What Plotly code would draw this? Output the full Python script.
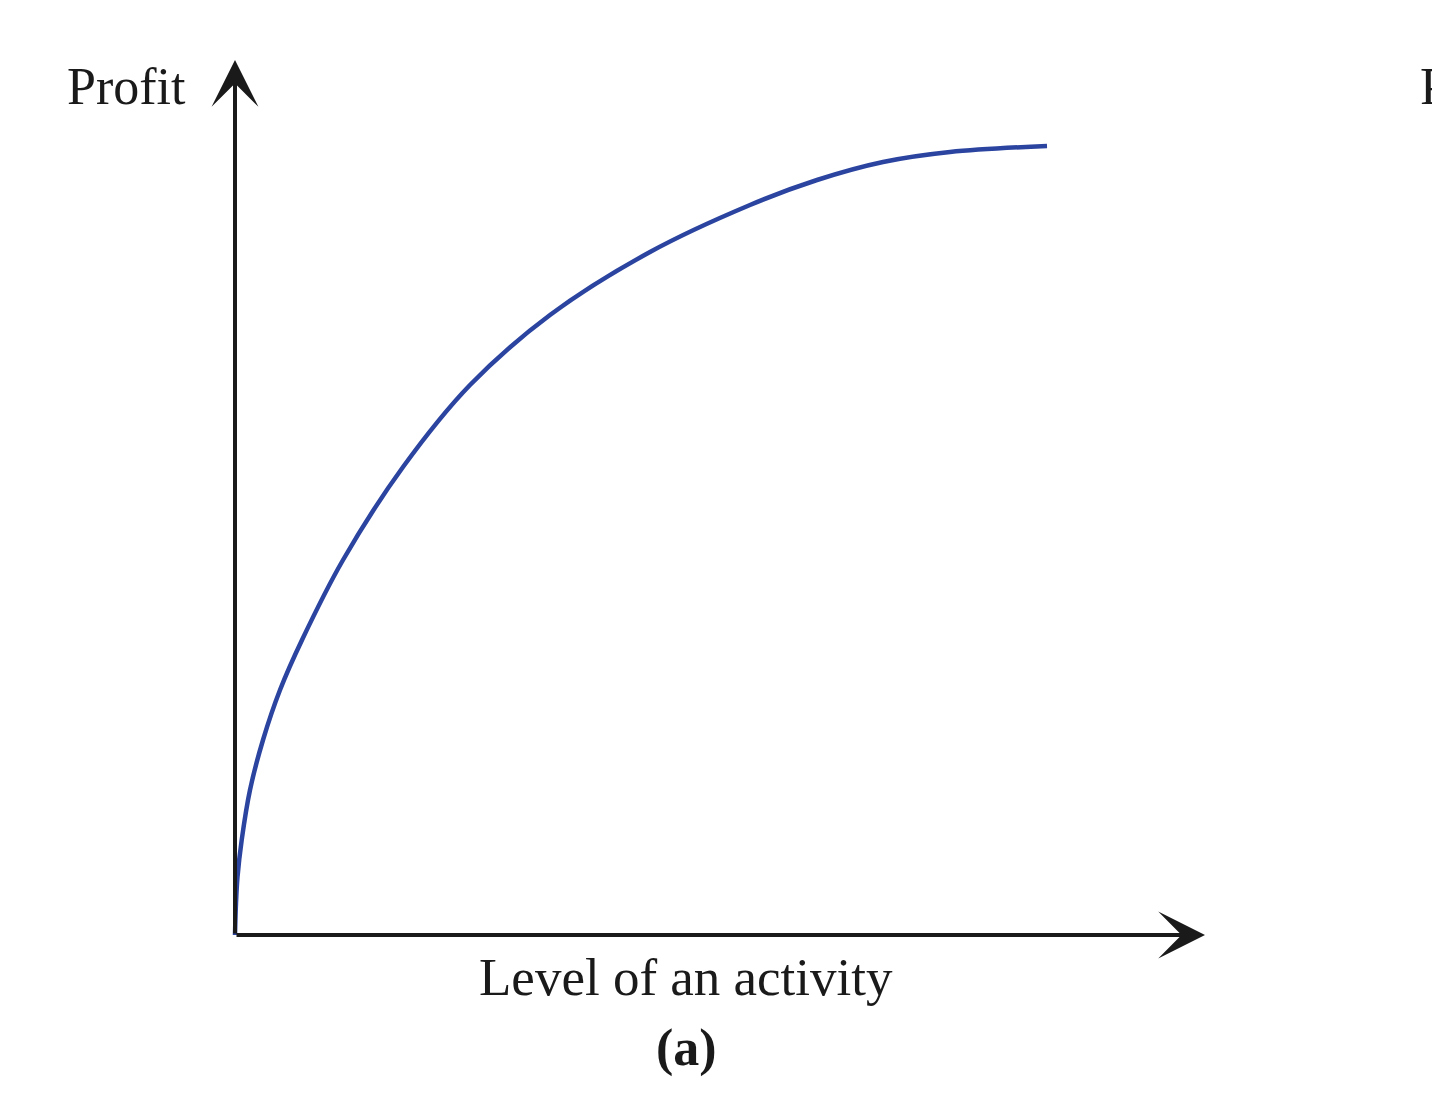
import plotly.graph_objects as go

# curve (activity level vs profit, arbitrary units)
level = [0, 0.1, 0.25, 0.67, 1.5, 2.8, 4.5, 6.7, 10.8, 16.8, 23.5,
         31.5, 41.5, 51.5, 58.2, 64.8, 71.5, 81.2]
profit = [0, 3.2, 5.8, 9.5, 14.5, 19.5, 24.5, 29.5, 37.5, 46.8, 55.0,
          62.0, 68.3, 73.0, 75.5, 77.3, 78.3, 78.9]

x_label = "Level of an activity"
y_label = "Profit"
panel_label = "(a)"

x_max = 97
y_max = 87.5

serif = "Liberation Serif, Times New Roman, serif"
ink = "#1a1a1a"

fig = go.Figure()

fig.add_trace(go.Scatter(x=level, y=profit, mode="lines",
                         line=dict(color="#2b44a0", width=4.5, shape="spline",
                                   smoothing=1.0),
                         hoverinfo="skip"))

# axes drawn as arrows from the origin
for tip in [(x_max, 0), (0, y_max)]:
    fig.add_annotation(x=tip[0], y=tip[1], ax=0, ay=0,
                       xref="x", yref="y", axref="x", ayref="y",
                       text="", showarrow=True, arrowhead=3,
                       arrowsize=1.95, arrowwidth=4, arrowcolor=ink,
                       standoff=0, startstandoff=0)

font = dict(family=serif, size=52, color=ink)
fig.add_annotation(x=-0.079, y=0.971, xref="paper", yref="paper",
                   text=y_label, showarrow=False, font=font,
                   xanchor="center", yanchor="middle")
# label of the next panel, cut off by the right edge
fig.add_annotation(x=1.213, y=0.971, xref="paper", yref="paper",
                   text=y_label, showarrow=False, font=font,
                   xanchor="left", yanchor="middle")
fig.add_annotation(x=0.481, y=-0.0135, xref="paper", yref="paper",
                   text=x_label, showarrow=False,
                   font=dict(family=serif, size=53, color=ink),
                   xanchor="center", yanchor="middle")
fig.add_annotation(x=0.481, y=-0.0917, xref="paper", yref="paper",
                   text="<b>" + panel_label + "</b>", showarrow=False, font=font,
                   xanchor="center", yanchor="middle")

fig.update_xaxes(range=[-3, x_max], visible=False, fixedrange=True)
fig.update_yaxes(range=[-3, y_max], visible=False, fixedrange=True)
fig.update_layout(width=1440, height=1117,
                  margin=dict(l=197, r=243, t=52, b=160),
                  plot_bgcolor="white", paper_bgcolor="white",
                  showlegend=False)

fig.write_html("out.html")
